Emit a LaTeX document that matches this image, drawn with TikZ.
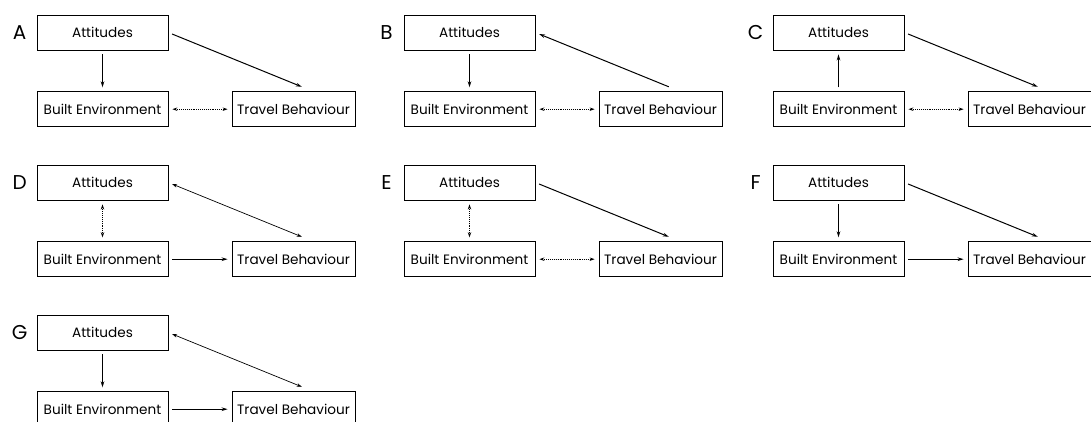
\documentclass[tikz,border=0pt]{standalone}
\usepackage{fontspec}
\setmainfont{Poppins}
\usetikzlibrary{positioning,arrows.meta}

\tikzset{
  box/.style={draw,line width=0.8pt,minimum width=131pt,minimum height=35pt,inner sep=0pt,font=\fontsize{13.6}{15}\selectfont},
  tbbox/.style={box,minimum width=123pt},
  panel/.style={font=\fontsize{20}{22}\selectfont},
  effect/.style={-{Stealth[length=6pt,width=3.6pt]},line width=1pt,shorten <=4pt,shorten >=4pt},
  assoc/.style={{Stealth[length=5pt,width=3.4pt]}-{Stealth[length=5pt,width=3.4pt]},densely dotted,line width=0.9pt,shorten <=4pt,shorten >=4pt},
  corr/.style={{Stealth[length=5pt,width=3.4pt]}-{Stealth[length=5pt,width=3.4pt]},line width=0.7pt,shorten <=4pt,shorten >=4pt}
}

\begin{document}
\begin{tikzpicture}[x=1pt,y=-1pt,node distance=76.7pt,on grid]
  \useasboundingbox (0,0) rectangle (1091,421);

  % A
  \node[box] (att_a) at (102.5,32.5) {Attitudes};
  \node[panel] (lab_a) at ([xshift=-17pt]att_a.west) {A};
  \node[box] (be_a) [below=of att_a] {Built Environment};
  \node[tbbox] (tb_a) [right=191pt of be_a] {Travel Behaviour};
  \path
  (att_a) edge[effect] (be_a)
  (att_a.east) edge[effect] ([xshift=12pt,yshift=3pt]tb_a.north)
  (be_a) edge[assoc] (tb_a);

  % B
  \node[box] (att_b) at (469.5,32.5) {Attitudes};
  \node[panel] (lab_b) at ([xshift=-17pt]att_b.west) {B};
  \node[box] (be_b) [below=of att_b] {Built Environment};
  \node[tbbox] (tb_b) [right=191pt of be_b] {Travel Behaviour};
  \path
  (att_b) edge[effect] (be_b)
  ([xshift=12pt,yshift=3pt]tb_b.north) edge[effect] (att_b.east)
  (be_b) edge[assoc] (tb_b);

  % C
  \node[box] (att_c) at (838.5,32.5) {Attitudes};
  \node[panel] (lab_c) at ([xshift=-17pt]att_c.west) {C};
  \node[box] (be_c) [below=of att_c] {Built Environment};
  \node[tbbox] (tb_c) [right=191pt of be_c] {Travel Behaviour};
  \path
  (be_c) edge[effect] (att_c)
  (att_c.east) edge[effect] ([xshift=12pt,yshift=3pt]tb_c.north)
  (be_c) edge[assoc] (tb_c);

  % D
  \node[box] (att_d) at (102.5,182.5) {Attitudes};
  \node[panel] (lab_d) at ([xshift=-17pt]att_d.west) {D};
  \node[box] (be_d) [below=of att_d] {Built Environment};
  \node[tbbox] (tb_d) [right=191pt of be_d] {Travel Behaviour};
  \path
  (att_d) edge[assoc] (be_d)
  (att_d.east) edge[corr] ([xshift=12pt,yshift=3pt]tb_d.north)
  (be_d) edge[effect] (tb_d);

  % E
  \node[box] (att_e) at (469.5,182.5) {Attitudes};
  \node[panel] (lab_e) at ([xshift=-17pt]att_e.west) {E};
  \node[box] (be_e) [below=of att_e] {Built Environment};
  \node[tbbox] (tb_e) [right=191pt of be_e] {Travel Behaviour};
  \path
  (att_e) edge[assoc] (be_e)
  (att_e.east) edge[effect] ([xshift=12pt,yshift=3pt]tb_e.north)
  (be_e) edge[assoc] (tb_e);

  % F
  \node[box] (att_f) at (838.5,182.5) {Attitudes};
  \node[panel] (lab_f) at ([xshift=-17pt]att_f.west) {F};
  \node[box] (be_f) [below=of att_f] {Built Environment};
  \node[tbbox] (tb_f) [right=191pt of be_f] {Travel Behaviour};
  \path
  (att_f) edge[effect] (be_f)
  (att_f.east) edge[effect] ([xshift=12pt,yshift=3pt]tb_f.north)
  (be_f) edge[effect] (tb_f);

  % G
  \node[box] (att_g) at (102.5,332.5) {Attitudes};
  \node[panel] (lab_g) at ([xshift=-17pt]att_g.west) {G};
  \node[box] (be_g) [below=of att_g] {Built Environment};
  \node[tbbox] (tb_g) [right=191pt of be_g] {Travel Behaviour};
  \path
  (att_g) edge[effect] (be_g)
  (att_g.east) edge[corr] ([xshift=12pt,yshift=3pt]tb_g.north)
  (be_g) edge[effect] (tb_g);
\end{tikzpicture}
\end{document}
